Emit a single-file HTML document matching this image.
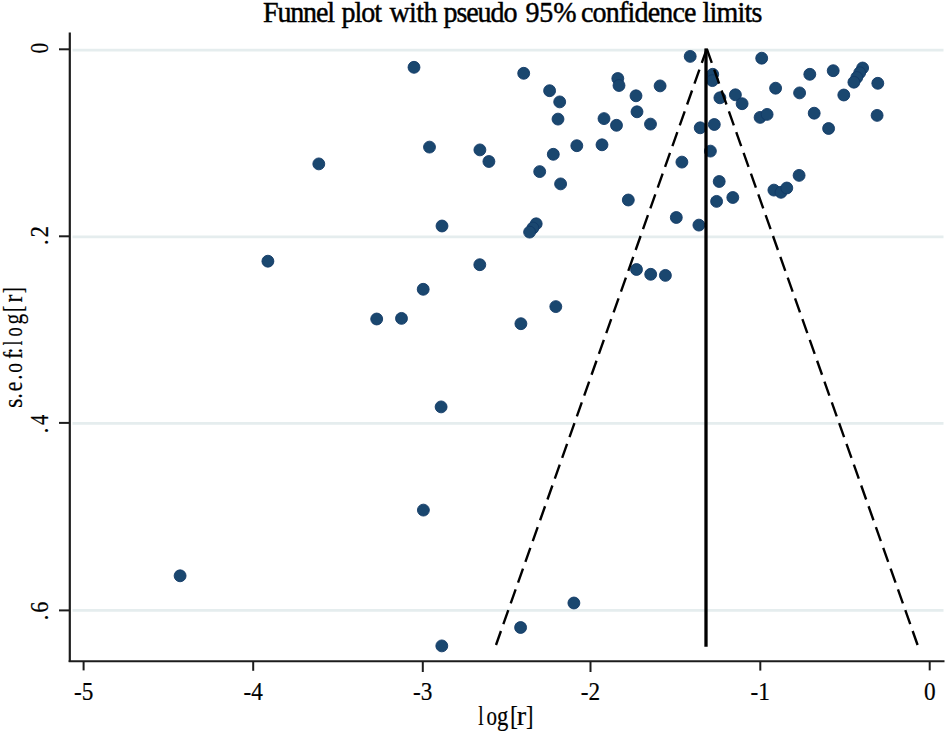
<!DOCTYPE html><html><head><meta charset="utf-8"><style>html,body{margin:0;padding:0;background:#fff;overflow:hidden}svg{display:block}</style></head><body>
<svg width="946" height="732" viewBox="0 0 946 732">
<rect width="946" height="732" fill="#fff"/>
<line x1="72.5" y1="50.1" x2="943.5" y2="50.1" stroke="#e5edee" stroke-width="2.8"/>
<line x1="72.5" y1="236.8" x2="943.5" y2="236.8" stroke="#e5edee" stroke-width="2.8"/>
<line x1="72.5" y1="423.4" x2="943.5" y2="423.4" stroke="#e5edee" stroke-width="2.8"/>
<line x1="72.5" y1="610.3" x2="943.5" y2="610.3" stroke="#e5edee" stroke-width="2.8"/>
<text transform="translate(263.0,21.7) scale(0.95,1)" style="font-family:'Liberation Serif',serif;font-size:29.5px" stroke="#000" stroke-width="0.45" textLength="75.79" lengthAdjust="spacing" fill="#000">Funnel</text>
<text transform="translate(341.5,21.7) scale(0.95,1)" style="font-family:'Liberation Serif',serif;font-size:29.5px" stroke="#000" stroke-width="0.45" textLength="42.63" lengthAdjust="spacing" fill="#000">plot</text>
<text transform="translate(389.5,21.7) scale(0.95,1)" style="font-family:'Liberation Serif',serif;font-size:29.5px" stroke="#000" stroke-width="0.45" textLength="50.53" lengthAdjust="spacing" fill="#000">with</text>
<text transform="translate(443.5,21.7) scale(0.95,1)" style="font-family:'Liberation Serif',serif;font-size:29.5px" stroke="#000" stroke-width="0.45" textLength="77.89" lengthAdjust="spacing" fill="#000">pseudo</text>
<text transform="translate(525.5,21.7) scale(0.95,1)" style="font-family:'Liberation Serif',serif;font-size:29.5px" stroke="#000" stroke-width="0.45" textLength="53.68" lengthAdjust="spacing" fill="#000">95%</text>
<text transform="translate(581.0,21.7) scale(0.95,1)" style="font-family:'Liberation Serif',serif;font-size:29.5px" stroke="#000" stroke-width="0.45" textLength="121.58" lengthAdjust="spacing" fill="#000">confidence</text>
<text transform="translate(702.5,21.7) scale(0.95,1)" style="font-family:'Liberation Serif',serif;font-size:29.5px" stroke="#000" stroke-width="0.45" textLength="63.16" lengthAdjust="spacing" fill="#000">limits</text>
<line x1="69.8" y1="32.4" x2="69.8" y2="662" stroke="#1c1c1c" stroke-width="2.2"/>
<line x1="68.7" y1="661.2" x2="944.5" y2="661.2" stroke="#1c1c1c" stroke-width="2"/>
<line x1="59" y1="49.3" x2="69.7" y2="49.3" stroke="#1c1c1c" stroke-width="2"/>
<line x1="59" y1="236.3" x2="69.7" y2="236.3" stroke="#1c1c1c" stroke-width="2"/>
<line x1="59" y1="422.9" x2="69.7" y2="422.9" stroke="#1c1c1c" stroke-width="2"/>
<line x1="59" y1="610.4" x2="69.7" y2="610.4" stroke="#1c1c1c" stroke-width="2"/>
<line x1="83.6" y1="661" x2="83.6" y2="670.4" stroke="#1c1c1c" stroke-width="2"/>
<text transform="translate(83.6,699.7) scale(0.93,1)" text-anchor="middle" style="font-family:'Liberation Serif',serif;font-size:25px" fill="#000" stroke="#000" stroke-width="0.2">-5</text>
<line x1="253.2" y1="661" x2="253.2" y2="670.8" stroke="#1c1c1c" stroke-width="2"/>
<text transform="translate(253.2,699.7) scale(0.93,1)" text-anchor="middle" style="font-family:'Liberation Serif',serif;font-size:25px" fill="#000" stroke="#000" stroke-width="0.2">-4</text>
<line x1="422.8" y1="661" x2="422.8" y2="672.0" stroke="#1c1c1c" stroke-width="2"/>
<text transform="translate(422.8,699.7) scale(0.93,1)" text-anchor="middle" style="font-family:'Liberation Serif',serif;font-size:25px" fill="#000" stroke="#000" stroke-width="0.2">-3</text>
<line x1="590.5" y1="661" x2="590.5" y2="672.0" stroke="#1c1c1c" stroke-width="2"/>
<text transform="translate(590.5,699.7) scale(0.93,1)" text-anchor="middle" style="font-family:'Liberation Serif',serif;font-size:25px" fill="#000" stroke="#000" stroke-width="0.2">-2</text>
<line x1="760.3" y1="661" x2="760.3" y2="670.6" stroke="#1c1c1c" stroke-width="2"/>
<text transform="translate(760.3,699.7) scale(0.93,1)" text-anchor="middle" style="font-family:'Liberation Serif',serif;font-size:25px" fill="#000" stroke="#000" stroke-width="0.2">-1</text>
<line x1="929.7" y1="661" x2="929.7" y2="670.4" stroke="#1c1c1c" stroke-width="2"/>
<text transform="translate(929.7,699.7) scale(0.93,1)" text-anchor="middle" style="font-family:'Liberation Serif',serif;font-size:25px" fill="#000" stroke="#000" stroke-width="0.2">0</text>
<text transform="translate(48.3,53.52) rotate(-90) scale(0.8679,1)" style="font-family:'Liberation Serif',serif;font-size:25px" fill="#000" stroke="#000" stroke-width="0.2">0</text>
<text transform="translate(48.3,245.11) rotate(-90) scale(0.9000,1)" style="font-family:'Liberation Serif',serif;font-size:25px" fill="#000" stroke="#000" stroke-width="0.2">.</text>
<text transform="translate(48.3,237.51) rotate(-90) scale(0.9177,1)" style="font-family:'Liberation Serif',serif;font-size:25px" fill="#000" stroke="#000" stroke-width="0.2">2</text>
<text transform="translate(48.3,433.21) rotate(-90) scale(0.9000,1)" style="font-family:'Liberation Serif',serif;font-size:25px" fill="#000" stroke="#000" stroke-width="0.2">.</text>
<text transform="translate(48.3,425.01) rotate(-90) scale(0.8190,1)" style="font-family:'Liberation Serif',serif;font-size:25px" fill="#000" stroke="#000" stroke-width="0.2">4</text>
<text transform="translate(48.3,620.31) rotate(-90) scale(0.9000,1)" style="font-family:'Liberation Serif',serif;font-size:25px" fill="#000" stroke="#000" stroke-width="0.2">.</text>
<text transform="translate(48.3,612.86) rotate(-90) scale(0.8899,1)" style="font-family:'Liberation Serif',serif;font-size:25px" fill="#000" stroke="#000" stroke-width="0.2">6</text>
<text transform="translate(478.21,724.7) scale(0.7349,1)" style="font-family:'Liberation Serif',serif;font-size:26.3px" fill="#000" stroke="#000" stroke-width="0.2">l</text>
<text transform="translate(486.60,724.7) scale(0.7981,1)" style="font-family:'Liberation Serif',serif;font-size:26.3px" fill="#000" stroke="#000" stroke-width="0.2">o</text>
<text transform="translate(496.93,724.7) scale(0.8594,1)" style="font-family:'Liberation Serif',serif;font-size:26.3px" fill="#000" stroke="#000" stroke-width="0.2">g</text>
<text transform="translate(509.94,724.7) scale(0.9037,1)" style="font-family:'Liberation Serif',serif;font-size:26.3px" fill="#000" stroke="#000" stroke-width="0.2">[</text>
<text transform="translate(516.63,724.7) scale(1.0756,1)" style="font-family:'Liberation Serif',serif;font-size:26.3px" fill="#000" stroke="#000" stroke-width="0.2">r</text>
<text transform="translate(525.89,724.7) scale(0.8525,1)" style="font-family:'Liberation Serif',serif;font-size:26.3px" fill="#000" stroke="#000" stroke-width="0.2">]</text>
<text transform="translate(21.8,407.90) rotate(-90) scale(0.9192,1)" style="font-family:'Liberation Serif',serif;font-size:26.5px" fill="#000" stroke="#000" stroke-width="0.2">s</text>
<text transform="translate(21.8,398.48) rotate(-90) scale(0.7800,1)" style="font-family:'Liberation Serif',serif;font-size:26.5px" fill="#000" stroke="#000" stroke-width="0.2">.</text>
<text transform="translate(21.8,391.34) rotate(-90) scale(0.8159,1)" style="font-family:'Liberation Serif',serif;font-size:26.5px" fill="#000" stroke="#000" stroke-width="0.2">e</text>
<text transform="translate(21.8,379.68) rotate(-90) scale(0.7800,1)" style="font-family:'Liberation Serif',serif;font-size:26.5px" fill="#000" stroke="#000" stroke-width="0.2">.</text>
<text transform="translate(21.8,372.74) rotate(-90) scale(0.7387,1)" style="font-family:'Liberation Serif',serif;font-size:26.5px" fill="#000" stroke="#000" stroke-width="0.2">o</text>
<text transform="translate(21.8,358.66) rotate(-90) scale(0.7997,1)" style="font-family:'Liberation Serif',serif;font-size:26.5px" fill="#000" stroke="#000" stroke-width="0.2">f</text>
<text transform="translate(21.8,353.45) rotate(-90) scale(0.7800,1)" style="font-family:'Liberation Serif',serif;font-size:26.5px" fill="#000" stroke="#000" stroke-width="0.2">:</text>
<text transform="translate(21.8,345.22) rotate(-90) scale(0.6025,1)" style="font-family:'Liberation Serif',serif;font-size:26.5px" fill="#000" stroke="#000" stroke-width="0.2">l</text>
<text transform="translate(21.8,336.40) rotate(-90) scale(0.6942,1)" style="font-family:'Liberation Serif',serif;font-size:26.5px" fill="#000" stroke="#000" stroke-width="0.2">o</text>
<text transform="translate(21.8,324.42) rotate(-90) scale(0.8099,1)" style="font-family:'Liberation Serif',serif;font-size:26.5px" fill="#000" stroke="#000" stroke-width="0.2">g</text>
<text transform="translate(21.8,311.83) rotate(-90) scale(0.6769,1)" style="font-family:'Liberation Serif',serif;font-size:26.5px" fill="#000" stroke="#000" stroke-width="0.2">[</text>
<text transform="translate(21.8,302.57) rotate(-90) scale(0.8813,1)" style="font-family:'Liberation Serif',serif;font-size:26.5px" fill="#000" stroke="#000" stroke-width="0.2">r</text>
<text transform="translate(21.8,293.08) rotate(-90) scale(0.6092,1)" style="font-family:'Liberation Serif',serif;font-size:26.5px" fill="#000" stroke="#000" stroke-width="0.2">]</text>
<circle cx="414.0" cy="67.3" r="5.95" fill="#1a476f" stroke="#123a66" stroke-width="0.9"/>
<circle cx="523.7" cy="73.3" r="5.95" fill="#1a476f" stroke="#123a66" stroke-width="0.9"/>
<circle cx="549.6" cy="90.7" r="5.95" fill="#1a476f" stroke="#123a66" stroke-width="0.9"/>
<circle cx="559.7" cy="101.9" r="5.95" fill="#1a476f" stroke="#123a66" stroke-width="0.9"/>
<circle cx="558.0" cy="119.1" r="5.95" fill="#1a476f" stroke="#123a66" stroke-width="0.9"/>
<circle cx="617.8" cy="78.5" r="5.95" fill="#1a476f" stroke="#123a66" stroke-width="0.9"/>
<circle cx="619.0" cy="85.5" r="5.95" fill="#1a476f" stroke="#123a66" stroke-width="0.9"/>
<circle cx="636.0" cy="95.8" r="5.95" fill="#1a476f" stroke="#123a66" stroke-width="0.9"/>
<circle cx="637.0" cy="111.8" r="5.95" fill="#1a476f" stroke="#123a66" stroke-width="0.9"/>
<circle cx="604.0" cy="118.6" r="5.95" fill="#1a476f" stroke="#123a66" stroke-width="0.9"/>
<circle cx="616.5" cy="125.3" r="5.95" fill="#1a476f" stroke="#123a66" stroke-width="0.9"/>
<circle cx="650.5" cy="124.1" r="5.95" fill="#1a476f" stroke="#123a66" stroke-width="0.9"/>
<circle cx="660.1" cy="85.9" r="5.95" fill="#1a476f" stroke="#123a66" stroke-width="0.9"/>
<circle cx="690.2" cy="56.4" r="5.95" fill="#1a476f" stroke="#123a66" stroke-width="0.9"/>
<circle cx="712.7" cy="74.3" r="5.95" fill="#1a476f" stroke="#123a66" stroke-width="0.9"/>
<circle cx="712.4" cy="80.6" r="5.95" fill="#1a476f" stroke="#123a66" stroke-width="0.9"/>
<circle cx="719.9" cy="97.8" r="5.95" fill="#1a476f" stroke="#123a66" stroke-width="0.9"/>
<circle cx="735.4" cy="94.8" r="5.95" fill="#1a476f" stroke="#123a66" stroke-width="0.9"/>
<circle cx="742.1" cy="103.7" r="5.95" fill="#1a476f" stroke="#123a66" stroke-width="0.9"/>
<circle cx="700.2" cy="127.8" r="5.95" fill="#1a476f" stroke="#123a66" stroke-width="0.9"/>
<circle cx="714.3" cy="124.5" r="5.95" fill="#1a476f" stroke="#123a66" stroke-width="0.9"/>
<circle cx="761.7" cy="58.2" r="5.95" fill="#1a476f" stroke="#123a66" stroke-width="0.9"/>
<circle cx="775.6" cy="88.2" r="5.95" fill="#1a476f" stroke="#123a66" stroke-width="0.9"/>
<circle cx="760.1" cy="117.4" r="5.95" fill="#1a476f" stroke="#123a66" stroke-width="0.9"/>
<circle cx="767.1" cy="114.4" r="5.95" fill="#1a476f" stroke="#123a66" stroke-width="0.9"/>
<circle cx="799.6" cy="92.9" r="5.95" fill="#1a476f" stroke="#123a66" stroke-width="0.9"/>
<circle cx="809.8" cy="74.3" r="5.95" fill="#1a476f" stroke="#123a66" stroke-width="0.9"/>
<circle cx="833.2" cy="70.7" r="5.95" fill="#1a476f" stroke="#123a66" stroke-width="0.9"/>
<circle cx="862.6" cy="68.0" r="5.95" fill="#1a476f" stroke="#123a66" stroke-width="0.9"/>
<circle cx="859.7" cy="72.7" r="5.95" fill="#1a476f" stroke="#123a66" stroke-width="0.9"/>
<circle cx="856.8" cy="77.5" r="5.95" fill="#1a476f" stroke="#123a66" stroke-width="0.9"/>
<circle cx="853.9" cy="82.2" r="5.95" fill="#1a476f" stroke="#123a66" stroke-width="0.9"/>
<circle cx="877.8" cy="83.3" r="5.95" fill="#1a476f" stroke="#123a66" stroke-width="0.9"/>
<circle cx="843.8" cy="95.0" r="5.95" fill="#1a476f" stroke="#123a66" stroke-width="0.9"/>
<circle cx="814.2" cy="113.2" r="5.95" fill="#1a476f" stroke="#123a66" stroke-width="0.9"/>
<circle cx="828.6" cy="128.5" r="5.95" fill="#1a476f" stroke="#123a66" stroke-width="0.9"/>
<circle cx="877.1" cy="115.4" r="5.95" fill="#1a476f" stroke="#123a66" stroke-width="0.9"/>
<circle cx="429.5" cy="147.1" r="5.95" fill="#1a476f" stroke="#123a66" stroke-width="0.9"/>
<circle cx="479.9" cy="149.9" r="5.95" fill="#1a476f" stroke="#123a66" stroke-width="0.9"/>
<circle cx="488.9" cy="161.5" r="5.95" fill="#1a476f" stroke="#123a66" stroke-width="0.9"/>
<circle cx="553.3" cy="154.3" r="5.95" fill="#1a476f" stroke="#123a66" stroke-width="0.9"/>
<circle cx="576.8" cy="145.7" r="5.95" fill="#1a476f" stroke="#123a66" stroke-width="0.9"/>
<circle cx="602.0" cy="144.8" r="5.95" fill="#1a476f" stroke="#123a66" stroke-width="0.9"/>
<circle cx="539.7" cy="171.6" r="5.95" fill="#1a476f" stroke="#123a66" stroke-width="0.9"/>
<circle cx="560.6" cy="183.9" r="5.95" fill="#1a476f" stroke="#123a66" stroke-width="0.9"/>
<circle cx="318.8" cy="163.9" r="5.95" fill="#1a476f" stroke="#123a66" stroke-width="0.9"/>
<circle cx="681.9" cy="162.1" r="5.95" fill="#1a476f" stroke="#123a66" stroke-width="0.9"/>
<circle cx="710.4" cy="151.1" r="5.95" fill="#1a476f" stroke="#123a66" stroke-width="0.9"/>
<circle cx="719.2" cy="181.5" r="5.95" fill="#1a476f" stroke="#123a66" stroke-width="0.9"/>
<circle cx="716.6" cy="201.4" r="5.95" fill="#1a476f" stroke="#123a66" stroke-width="0.9"/>
<circle cx="732.8" cy="197.5" r="5.95" fill="#1a476f" stroke="#123a66" stroke-width="0.9"/>
<circle cx="799.1" cy="175.4" r="5.95" fill="#1a476f" stroke="#123a66" stroke-width="0.9"/>
<circle cx="773.9" cy="190.1" r="5.95" fill="#1a476f" stroke="#123a66" stroke-width="0.9"/>
<circle cx="781.0" cy="192.3" r="5.95" fill="#1a476f" stroke="#123a66" stroke-width="0.9"/>
<circle cx="786.8" cy="188.0" r="5.95" fill="#1a476f" stroke="#123a66" stroke-width="0.9"/>
<circle cx="628.3" cy="200.0" r="5.95" fill="#1a476f" stroke="#123a66" stroke-width="0.9"/>
<circle cx="676.3" cy="217.5" r="5.95" fill="#1a476f" stroke="#123a66" stroke-width="0.9"/>
<circle cx="698.9" cy="225.1" r="5.95" fill="#1a476f" stroke="#123a66" stroke-width="0.9"/>
<circle cx="442.0" cy="226.0" r="5.95" fill="#1a476f" stroke="#123a66" stroke-width="0.9"/>
<circle cx="536.2" cy="223.8" r="5.95" fill="#1a476f" stroke="#123a66" stroke-width="0.9"/>
<circle cx="532.9" cy="228.0" r="5.95" fill="#1a476f" stroke="#123a66" stroke-width="0.9"/>
<circle cx="529.6" cy="232.1" r="5.95" fill="#1a476f" stroke="#123a66" stroke-width="0.9"/>
<circle cx="267.9" cy="261.2" r="5.95" fill="#1a476f" stroke="#123a66" stroke-width="0.9"/>
<circle cx="479.8" cy="264.7" r="5.95" fill="#1a476f" stroke="#123a66" stroke-width="0.9"/>
<circle cx="636.5" cy="269.5" r="5.95" fill="#1a476f" stroke="#123a66" stroke-width="0.9"/>
<circle cx="650.7" cy="274.3" r="5.95" fill="#1a476f" stroke="#123a66" stroke-width="0.9"/>
<circle cx="665.4" cy="275.4" r="5.95" fill="#1a476f" stroke="#123a66" stroke-width="0.9"/>
<circle cx="423.2" cy="289.3" r="5.95" fill="#1a476f" stroke="#123a66" stroke-width="0.9"/>
<circle cx="555.8" cy="306.6" r="5.95" fill="#1a476f" stroke="#123a66" stroke-width="0.9"/>
<circle cx="376.7" cy="319.0" r="5.95" fill="#1a476f" stroke="#123a66" stroke-width="0.9"/>
<circle cx="401.5" cy="318.4" r="5.95" fill="#1a476f" stroke="#123a66" stroke-width="0.9"/>
<circle cx="520.9" cy="323.7" r="5.95" fill="#1a476f" stroke="#123a66" stroke-width="0.9"/>
<circle cx="441.1" cy="406.9" r="5.95" fill="#1a476f" stroke="#123a66" stroke-width="0.9"/>
<circle cx="423.4" cy="510.1" r="5.95" fill="#1a476f" stroke="#123a66" stroke-width="0.9"/>
<circle cx="180.1" cy="575.8" r="5.95" fill="#1a476f" stroke="#123a66" stroke-width="0.9"/>
<circle cx="573.9" cy="603.0" r="5.95" fill="#1a476f" stroke="#123a66" stroke-width="0.9"/>
<circle cx="520.6" cy="627.5" r="5.95" fill="#1a476f" stroke="#123a66" stroke-width="0.9"/>
<circle cx="441.8" cy="645.9" r="5.95" fill="#1a476f" stroke="#123a66" stroke-width="0.9"/>
<line x1="706" y1="48.4" x2="706" y2="646.8" stroke="#000" stroke-width="3.3"/>
<line x1="496" y1="645" x2="706.8" y2="48.8" stroke="#000" stroke-width="2.4" stroke-dasharray="14.85 7.2"/>
<line x1="917.6" y1="645" x2="706.8" y2="48.8" stroke="#000" stroke-width="2.4" stroke-dasharray="14.85 7.2"/>
</svg></body></html>
